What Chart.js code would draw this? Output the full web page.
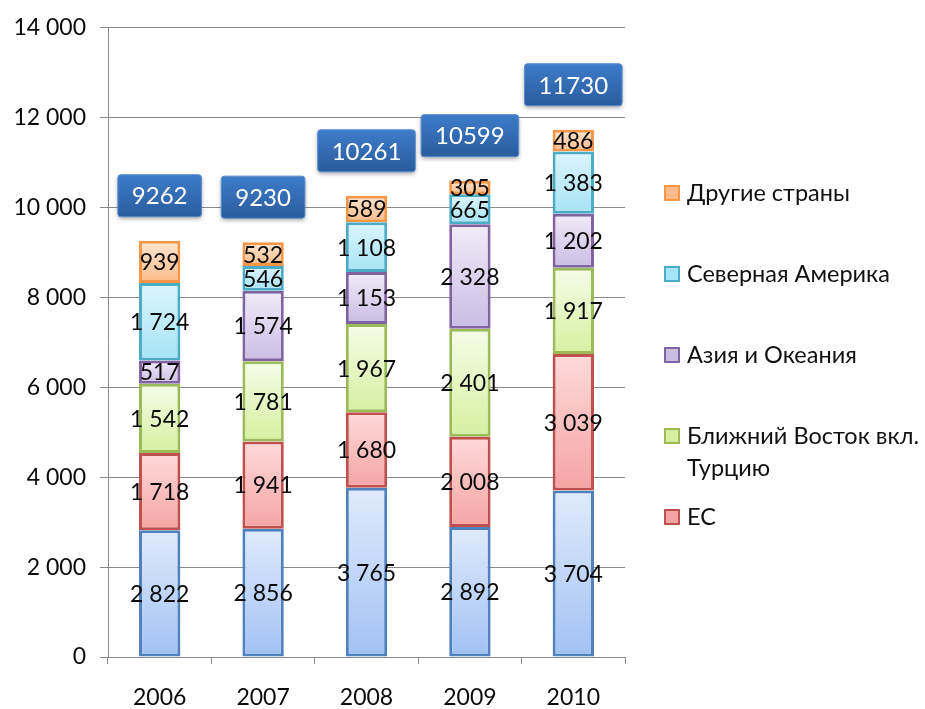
<!DOCTYPE html>
<html>
<head>
<meta charset="utf-8">
<script src="https://cdn.jsdelivr.net/npm/chart.js@4"></script>
<style>
  html, body { margin: 0; padding: 0; background: #fff; }
  #wrap { position: relative; width: 925px; height: 709px; }
  #legend { position: absolute; left: 664px; top: 176px; font-family: Lato, "Open Sans", sans-serif; font-size: 23.5px; color: #111; }
  .item { display: flex; align-items: flex-start; height: 81px; line-height: 32px; }
  .box { width: 12px; height: 12px; border: 2px solid; margin: 9px 7px 0 0; flex: none; }
</style>
</head>
<body>
<div id="wrap">
  <canvas id="chart" width="925" height="709"></canvas>
  <div id="legend"></div>
</div>
<script>
const years = ["2006", "2007", "2008", "2009", "2010"];
const seriesNames = ["", "ЕС", "Ближний Восток вкл. Турцию", "Азия и Океания", "Северная Америка", "Другие страны"];
const base = [2822, 2856, 3765, 2892, 3704];
const eu = [1718, 1941, 1680, 2008, 3039];
const middleEast = [1542, 1781, 1967, 2401, 1917];
const asia = [517, 1574, 1153, 2328, 1202];
const northAmerica = [1724, 546, 1108, 665, 1383];
const others = [939, 532, 589, 305, 486];
const totals = [9262, 9230, 10261, 10599, 11730];
const yTicks = [0, 2000, 4000, 6000, 8000, 10000, 12000, 14000];

const series = [base, eu, middleEast, asia, northAmerica, others];
const styles = [
  { top: "#e0ebfc", bottom: "#a2c1f4", border: "#4f81bd" },
  { top: "#ffdada", bottom: "#f4a4a3", border: "#c0504d" },
  { top: "#f6fce8", bottom: "#d5f0a0", border: "#9bbb59" },
  { top: "#f0ebf8", bottom: "#cbbce4", border: "#8064a2" },
  { top: "#dcf5fd", bottom: "#a6e3f5", border: "#4bacc6" },
  { top: "#fde6d2", bottom: "#fbbb88", border: "#f79646" }
];
const FONT = 'Lato, "Open Sans", sans-serif';

function fmt(v) {
  return String(v).replace(/\B(?=(\d{3})+(?!\d))/g, " ");
}

function segFill(si) {
  return ctx => {
    const chart = ctx.chart;
    const st = styles[si];
    if (ctx.type !== "data" || !chart.chartArea || !chart.scales.y) return st.bottom;
    let start = 0;
    for (let d = 0; d < si; d++) start += series[d][ctx.dataIndex];
    const end = start + series[si][ctx.dataIndex];
    const y = chart.scales.y;
    const g = chart.ctx.createLinearGradient(0, y.getPixelForValue(end), 0, y.getPixelForValue(start));
    g.addColorStop(0, st.top);
    g.addColorStop(1, st.bottom);
    return g;
  };
}

const segLabels = {
  id: "segLabels",
  afterDatasetsDraw(chart) {
    const c = chart.ctx;
    c.save();
    c.font = "23px " + FONT;
    c.fillStyle = "#0a0a0a";
    c.textAlign = "center";
    c.textBaseline = "middle";
    chart.data.datasets.forEach((ds, i) => {
      chart.getDatasetMeta(i).data.forEach((el, j) => {
        c.fillText(fmt(ds.data[j]), el.x, (el.y + el.base) / 2 + 1);
      });
    });
    c.restore();
  }
};

const totalBoxes = {
  id: "totalBoxes",
  afterDatasetsDraw(chart) {
    const c = chart.ctx;
    const last = chart.getDatasetMeta(chart.data.datasets.length - 1).data;
    c.save();
    c.font = "24px " + FONT;
    last.forEach((el, j) => {
      const txt = String(totals[j]);
      const w = c.measureText(txt).width + 28;
      const h = 42;
      const cy = el.y - 24 - h / 2;
      const x0 = el.x - w / 2, y0 = cy - h / 2;
      c.shadowColor = "rgba(0,0,0,0.35)";
      c.shadowBlur = 4;
      c.shadowOffsetY = 2;
      const g = c.createLinearGradient(0, y0, 0, y0 + h);
      g.addColorStop(0, "#3d7cc9");
      g.addColorStop(1, "#2a5c9e");
      c.fillStyle = g;
      c.beginPath();
      c.roundRect(x0, y0, w, h, 3);
      c.fill();
      c.shadowColor = "transparent";
      c.strokeStyle = "#5a8fd0";
      c.lineWidth = 1;
      c.stroke();
      c.fillStyle = "#fff";
      c.textAlign = "center";
      c.textBaseline = "middle";
      c.fillText(txt, el.x, cy + 1);
    });
    c.restore();
  }
};

new Chart(document.getElementById("chart"), {
  type: "bar",
  data: {
    labels: years,
    datasets: series.map((data, i) => ({
      label: seriesNames[i],
      data,
      backgroundColor: segFill(i),
      borderColor: styles[i].border,
      borderWidth: 3,
      borderSkipped: false,
      barPercentage: 0.4,
      categoryPercentage: 1
    }))
  },
  options: {
    responsive: false,
    animation: false,
    layout: { padding: { top: 26, right: 300, left: 0, bottom: 0 } },
    plugins: { legend: { display: false }, tooltip: { enabled: false } },
    scales: {
      x: {
        stacked: true,
        afterFit: s => { s.height = 52; },
        grid: { offset: true, drawOnChartArea: false, tickLength: 7, color: "#8a8a8a" },
        border: { color: "#8a8a8a" },
        ticks: { color: "#0a0a0a", font: { family: FONT, size: 23 }, padding: 20 }
      },
      y: {
        stacked: true,
        min: 0,
        max: 14000,
        afterFit: s => { s.width = 108; },
        afterBuildTicks: s => { s.ticks = yTicks.map(v => ({ value: v })); },
        grid: { color: "#8a8a8a", tickLength: 8 },
        border: { color: "#8a8a8a" },
        ticks: { color: "#0a0a0a", font: { family: FONT, size: 23 }, padding: 14, callback: v => fmt(v) }
      }
    }
  },
  plugins: [segLabels, totalBoxes]
});

const legend = document.getElementById("legend");
for (let i = series.length - 1; i >= 1; i--) {
  const item = document.createElement("div");
  item.className = "item";
  const box = document.createElement("span");
  box.className = "box";
  box.style.borderColor = styles[i].border;
  box.style.background = styles[i].bottom;
  const text = document.createElement("span");
  text.textContent = seriesNames[i];
  if (i === 2) text.style.width = "240px";
  item.appendChild(box);
  item.appendChild(text);
  legend.appendChild(item);
}
</script>
</body>
</html>
